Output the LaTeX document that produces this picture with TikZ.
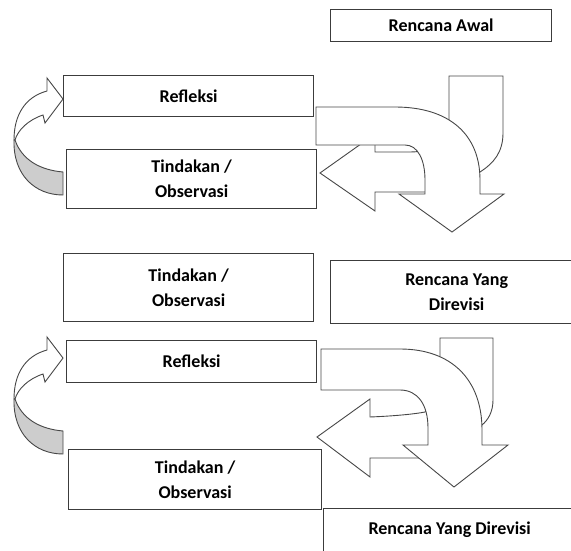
\documentclass[tikz,border=0pt]{standalone}
\usepackage{fontspec}
\setmainfont{Carlito}
\usetikzlibrary{positioning}
\definecolor{boxbd}{HTML}{3C3C3C}
\definecolor{arrbd}{HTML}{474747}
\definecolor{backbg}{HTML}{CDCDCD}
\tikzset{
  cyclebox/.style={
    draw=boxbd, fill=white, line width=1.3pt, anchor=north west,
    align=center, font=\bfseries\fontsize{18}{25}\selectfont, inner sep=0pt
  },
  bigarrow/.style={draw=arrbd, fill=white, line width=0.9pt, line join=miter},
  backside/.style={draw=arrbd, fill=backbg, line width=0.9pt}
}

\begin{document}
\begin{tikzpicture}[x=1pt, y=-1pt]
  \useasboundingbox (0,0) rectangle (571,551);

  % boxes
  \node[cyclebox, minimum width=221, minimum height=32] (awal) at (330,9) {Rencana Awal};
  \node[cyclebox, minimum width=250, minimum height=41] (refl1) at (63,75) {Refleksi};
  \node[cyclebox, minimum width=250, minimum height=59] (tind1) at (66,149) {Tindakan /\\Observasi};
  \node[cyclebox, minimum width=250, minimum height=68] (tind2) at (63,253) {Tindakan /\\Observasi};
  \node[cyclebox, minimum width=252, minimum height=63] (revisi1) at (330,260) {Rencana Yang\\Direvisi};
  \node[cyclebox, minimum width=250, minimum height=42] (refl2) at (66,340) {Refleksi};
  \node[cyclebox, minimum width=253, minimum height=60] (tind3) at (68,449) {Tindakan /\\Observasi};
  \node[cyclebox, minimum width=252, minimum height=47, text depth=8pt] (revisi2) at (323,508) {Rencana Yang Direvisi};

  % curved arrows on the left
  \foreach \dy in {0,259} {
    \begin{scope}[yshift=-\dy pt]
      \draw[backside] (14,140) .. controls (13,175) and (35,195) .. (63,195)
        -- (63,172) .. controls (40,170) and (22,160) .. (15,140) -- cycle;
      \draw[bigarrow] (47,91) -- (47,78) -- (63,99) -- (45,123) -- (43,115)
        .. controls (28,120) and (18,130) .. (15,140) -- (14,140)
        .. controls (14,115) and (25,97) .. (47,91) -- cycle;
    \end{scope}
  }

  % turning arrows, first cycle
  \draw[bigarrow] (449,76) -- (503,76) -- (503,133)
    .. controls (503,152) and (494,163) .. (480,172) -- (445,192)
    -- (375,192) -- (375,211) -- (320,173) -- (375,134) -- (375,152)
    -- (410,152) .. controls (435,152) and (449,140) .. (449,120) -- cycle;
  \draw[bigarrow] (316,107) -- (395,107) .. controls (450,107) and (480,135) .. (480,180)
    -- (480,194) -- (504,194) -- (452,232) -- (399,194) -- (425,194) -- (425,180)
    .. controls (425,160) and (418,145) .. (405,145) -- (316,145) -- cycle;

  % turning arrows, second cycle
  \draw[bigarrow] (440,338) -- (493,338) -- (493,400)
    .. controls (493,412) and (488,420) .. (482,425) -- (445,458)
    -- (370,458) -- (370,477) -- (317,437) -- (370,399) -- (370,417)
    .. controls (395,416) and (415,414) .. (425,412)
    .. controls (435,405) and (440,395) .. (440,375) -- cycle;
  \draw[bigarrow] (321,349) -- (400,349) .. controls (452,349) and (482,380) .. (482,430)
    -- (482,445) -- (508,445) -- (454,487) -- (403,445) -- (428,445) -- (428,428)
    .. controls (428,405) and (418,390) .. (400,390) -- (321,390) -- cycle;
\end{tikzpicture}
\end{document}
